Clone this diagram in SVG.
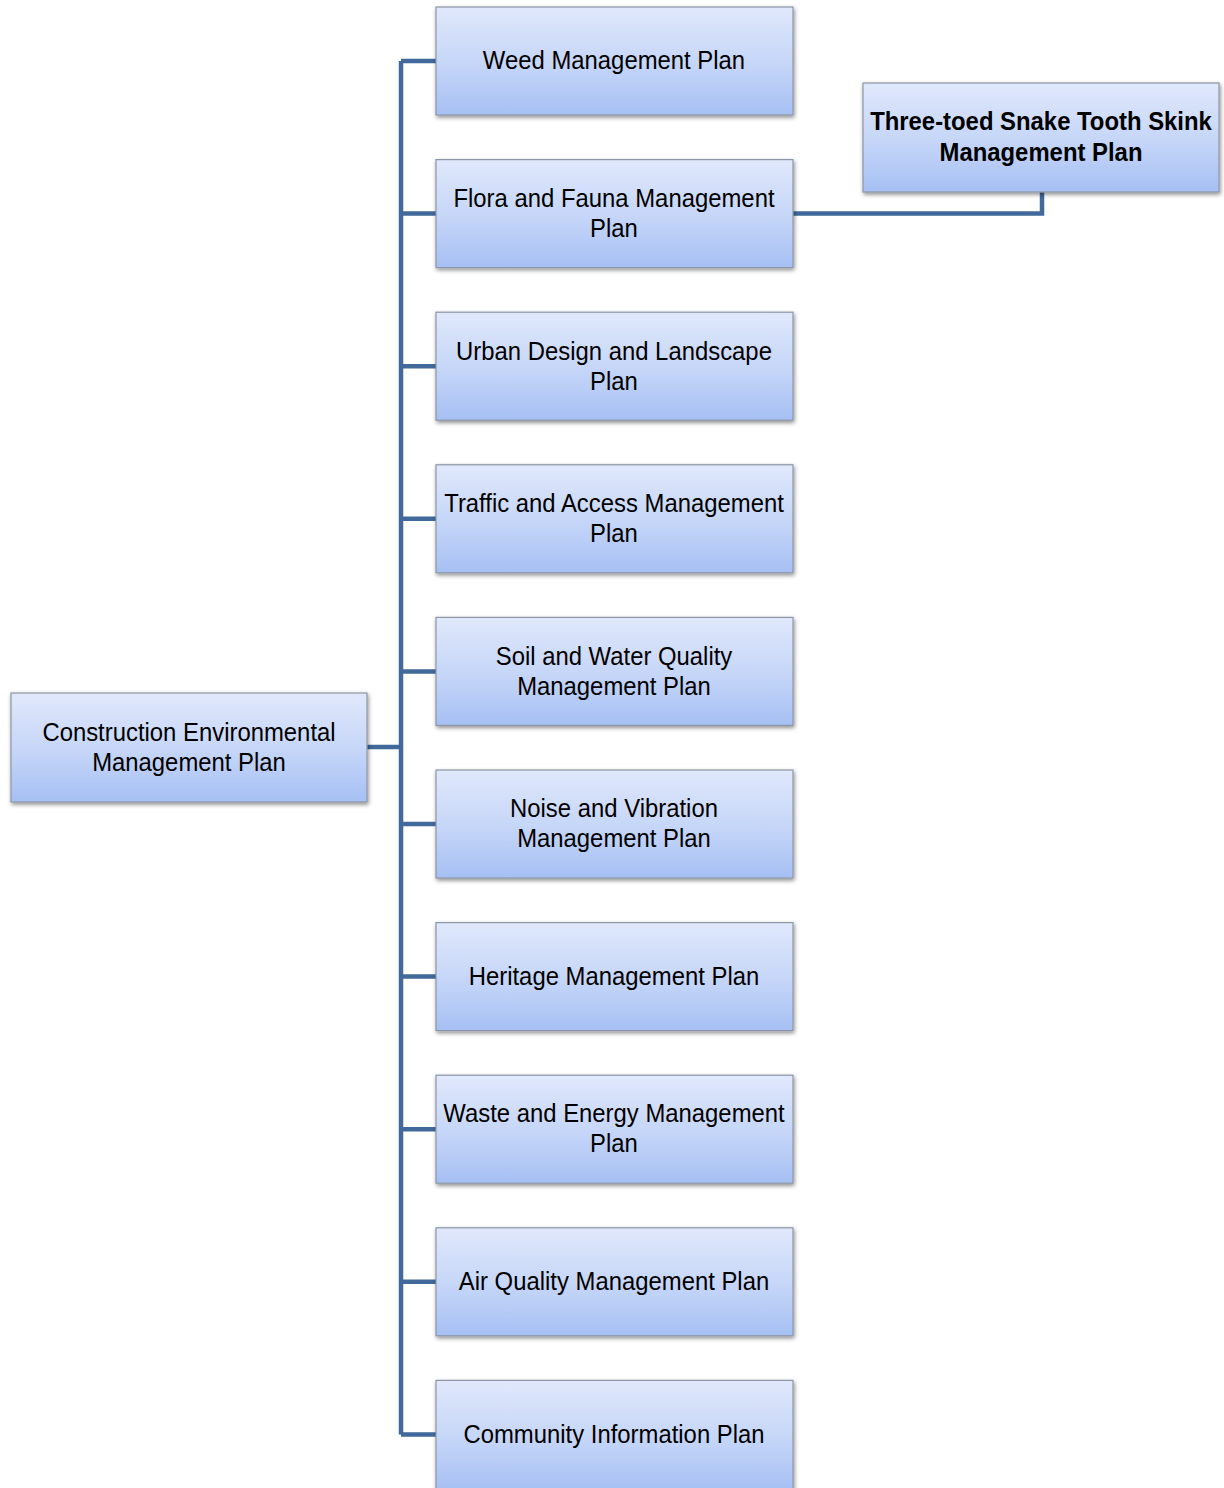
<svg xmlns="http://www.w3.org/2000/svg" width="1224" height="1488" viewBox="0 0 1224 1488">
<defs>
<linearGradient id="g" x1="0" y1="0" x2="0" y2="1">
<stop offset="0" stop-color="#e0e8fb"/>
<stop offset="0.5" stop-color="#c7d7f8"/>
<stop offset="1" stop-color="#a6c0f4"/>
</linearGradient>
<filter id="sh" x="-5%" y="-10%" width="112%" height="125%">
<feGaussianBlur in="SourceAlpha" stdDeviation="2"/>
<feOffset dx="1" dy="2" result="b"/>
<feComponentTransfer><feFuncA type="linear" slope="0.45"/></feComponentTransfer>
<feMerge><feMergeNode/><feMergeNode in="SourceGraphic"/></feMerge>
</filter>
</defs>
<style>
.box{fill:url(#g);stroke:#8d96a6;stroke-width:1.2;filter:url(#sh)}
.t{font-family:"Liberation Sans",Arial,sans-serif;font-size:25px;fill:#000;text-anchor:middle}
.b{font-weight:bold}
.c{fill:none;stroke:#41699c;stroke-width:4.5;stroke-linejoin:miter}
</style>
<rect width="1224" height="1488" fill="#fff"/>
<g id="connectors">
<path class="c" d="M401,61 V1434.4 M367,747 H401 M401,61 H436 M401,213.6 H436 M401,366.2 H436 M401,518.8 H436 M401,671.4 H436 M401,824 H436 M401,976.6 H436 M401,1129.2 H436 M401,1281.8 H436 M401,1434.4 H436"/>
<path class="c" d="M793,213.6 H1042 V192"/>
</g>
<g id="cemp">
<rect class="box" x="11" y="693" width="356" height="109"/>
<text class="t" transform="translate(189,741) scale(0.955,1)">Construction Environmental</text>
<text class="t" transform="translate(189,771) scale(0.955,1)">Management Plan</text>
</g>
<g id="weed">
<rect class="box" x="436" y="7" width="357" height="108"/>
<text class="t" transform="translate(614,69) scale(0.955,1)">Weed Management Plan</text>
</g>
<g id="flora">
<rect class="box" x="436" y="159.6" width="357" height="108"/>
<text class="t" transform="translate(614,207) scale(0.955,1)">Flora and Fauna Management</text>
<text class="t" transform="translate(614,237) scale(0.955,1)">Plan</text>
</g>
<g id="skink">
<rect class="box" x="863" y="83" width="356" height="109"/>
<text class="t b" transform="translate(1041,130) scale(0.955,1)">Three-toed Snake Tooth Skink</text>
<text class="t b" transform="translate(1041,161) scale(0.955,1)">Management Plan</text>
</g>
<g id="urban">
<rect class="box" x="436" y="312.2" width="357" height="108"/>
<text class="t" transform="translate(614,359.5) scale(0.955,1)">Urban Design and Landscape</text>
<text class="t" transform="translate(614,389.5) scale(0.955,1)">Plan</text>
</g>
<g id="traffic">
<rect class="box" x="436" y="464.8" width="357" height="108"/>
<text class="t" transform="translate(614,512) scale(0.955,1)">Traffic and Access Management</text>
<text class="t" transform="translate(614,542) scale(0.955,1)">Plan</text>
</g>
<g id="soil">
<rect class="box" x="436" y="617.4" width="357" height="108"/>
<text class="t" transform="translate(614,665) scale(0.955,1)">Soil and Water Quality</text>
<text class="t" transform="translate(614,695) scale(0.955,1)">Management Plan</text>
</g>
<g id="noise">
<rect class="box" x="436" y="770" width="357" height="108"/>
<text class="t" transform="translate(614,817) scale(0.955,1)">Noise and Vibration</text>
<text class="t" transform="translate(614,847) scale(0.955,1)">Management Plan</text>
</g>
<g id="heritage">
<rect class="box" x="436" y="922.6" width="357" height="108"/>
<text class="t" transform="translate(614,985) scale(0.955,1)">Heritage Management Plan</text>
</g>
<g id="waste">
<rect class="box" x="436" y="1075.2" width="357" height="108"/>
<text class="t" transform="translate(614,1122) scale(0.955,1)">Waste and Energy Management</text>
<text class="t" transform="translate(614,1152) scale(0.955,1)">Plan</text>
</g>
<g id="air">
<rect class="box" x="436" y="1227.8" width="357" height="108"/>
<text class="t" transform="translate(614,1290) scale(0.955,1)">Air Quality Management Plan</text>
</g>
<g id="community">
<rect class="box" x="436" y="1380.4" width="357" height="110"/>
<text class="t" transform="translate(614,1443) scale(0.955,1)">Community Information Plan</text>
</g>
</svg>
